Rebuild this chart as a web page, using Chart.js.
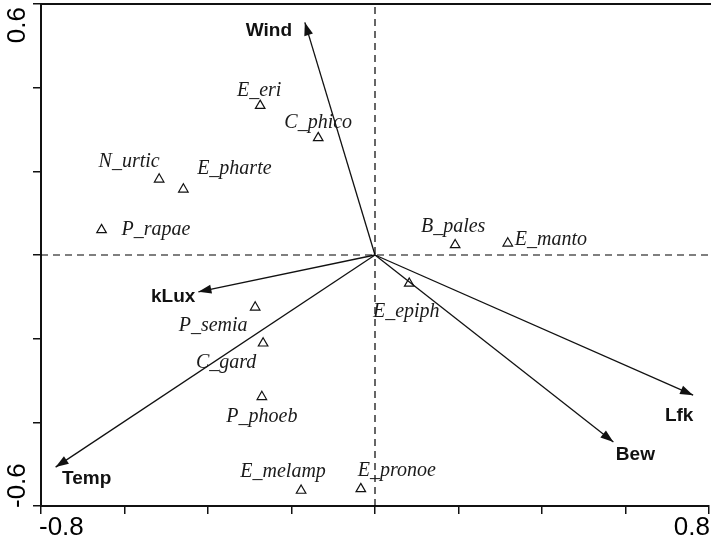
<!DOCTYPE html>
<html>
<head>
<meta charset="utf-8">
<script src="https://cdn.jsdelivr.net/npm/chart.js@4.4.1/dist/chart.umd.min.js"></script>
<style>
  html, body { margin: 0; padding: 0; background: #fff; }
  #wrap { width: 711px; height: 541px; }
</style>
</head>
<body>
<div id="wrap"><canvas id="cca"></canvas></div>
<script>
// species scores (axis 1, axis 2)
const species = ['E_eri', 'C_phico', 'N_urtic', 'E_pharte', 'P_rapae', 'B_pales', 'E_manto',
                 'E_epiph', 'P_semia', 'C_gard', 'P_phoeb', 'E_melamp', 'E_pronoe'];
const speciesX = [-0.275, -0.136, -0.517, -0.459, -0.655, 0.192, 0.318, 0.082, -0.287, -0.268, -0.271, -0.177, -0.034];
const speciesY = [0.357, 0.280, 0.181, 0.157, 0.060, 0.024, 0.028, -0.068, -0.125, -0.211, -0.339, -0.563, -0.559];

// environmental variables (arrow tips)
const envVars = ['Wind', 'kLux', 'Temp', 'Lfk', 'Bew'];
const envX = [-0.168, -0.423, -0.765, 0.762, 0.571];
const envY = [0.556, -0.088, -0.507, -0.335, -0.447];

// axis range + the only labelled ticks
const xTicks = [-0.8, 0.8];
const yTicks = [-0.6, 0.6];

// label placement relative to the marker (pixels)
const speciesLabelPos = {
    E_eri:    [-1, -15, 'center'],
    C_phico:  [0, -15, 'center'],
    N_urtic:  [-30, -18, 'center'],
    E_pharte: [51, -21, 'center'],
    P_rapae:  [20, 0, 'left'],
    B_pales:  [-2, -18, 'center'],
    E_manto:  [7, -4, 'left'],
    E_epiph:  [-3, 28, 'center'],
    P_semia:  [-42, 18, 'center'],
    C_gard:   [-37, 19, 'center'],
    P_phoeb:  [0, 20, 'center'],
    E_melamp: [-18, -19, 'center'],
    E_pronoe: [36, -18, 'center']
};
const envLabelPos = {
    Wind: [-36, 8, 'center'],
    kLux: [-3, 5, 'right'],
    Temp: [31, 12, 'center'],
    Lfk:  [-14, 21, 'center'],
    Bew:  [22, 13, 'center']
};

const ink = '#111';

const datasets = [];

// dashed zero lines
datasets.push({
    type: 'line', data: [{x: xTicks[0], y: 0}, {x: xTicks[1], y: 0}],
    borderColor: '#000', borderWidth: 1.2, borderDash: [7, 5], pointRadius: 0
});
datasets.push({
    type: 'line', data: [{x: 0, y: yTicks[0]}, {x: 0, y: yTicks[1]}],
    borderColor: '#000', borderWidth: 1.2, borderDash: [7, 5], pointRadius: 0
});

// one line per environmental arrow
envVars.forEach((name, i) => {
    datasets.push({
        type: 'line',
        label: name,
        isArrow: true,
        data: [{x: 0, y: 0}, {x: envX[i], y: envY[i]}],
        borderColor: ink,
        borderWidth: 1.3,
        pointRadius: 0
    });
});

// species markers
datasets.push({
    type: 'scatter',
    label: 'species',
    data: species.map((s, i) => ({x: speciesX[i], y: speciesY[i]})),
    pointStyle: 'triangle',
    pointRadius: 5.5,
    borderColor: ink,
    borderWidth: 1.2,
    backgroundColor: 'rgba(255,255,255,0)'
});

const biplotPlugin = {
    id: 'biplot',
    afterDatasetsDraw(chart) {
        const ctx = chart.ctx;
        ctx.save();
        // arrow heads + variable names
        chart.data.datasets.forEach((ds, di) => {
            if (!ds.isArrow) return;
            const pts = chart.getDatasetMeta(di).data;
            const o = pts[0], t = pts[1];
            const ang = Math.atan2(t.y - o.y, t.x - o.x);
            const len = 13, half = 4.5;
            ctx.fillStyle = ink;
            ctx.beginPath();
            ctx.moveTo(t.x, t.y);
            ctx.lineTo(t.x - len * Math.cos(ang) + half * Math.sin(ang), t.y - len * Math.sin(ang) - half * Math.cos(ang));
            ctx.lineTo(t.x - len * Math.cos(ang) - half * Math.sin(ang), t.y - len * Math.sin(ang) + half * Math.cos(ang));
            ctx.closePath();
            ctx.fill();

            const p = envLabelPos[ds.label];
            ctx.font = 'bold 19px "Liberation Sans", Arial, sans-serif';
            ctx.textAlign = p[2];
            ctx.textBaseline = 'middle';
            ctx.fillText(ds.label, t.x + p[0], t.y + p[1]);
        });

        // species names
        const sIdx = chart.data.datasets.findIndex(d => d.label === 'species');
        const sPts = chart.getDatasetMeta(sIdx).data;
        ctx.font = 'italic 20px "Liberation Serif", "Times New Roman", serif';
        ctx.fillStyle = '#1a1a1a';
        ctx.textBaseline = 'middle';
        species.forEach((name, i) => {
            const p = speciesLabelPos[name];
            ctx.textAlign = p[2];
            ctx.fillText(name, sPts[i].x + p[0], sPts[i].y + p[1]);
        });
        ctx.restore();
    },
    afterDraw(chart) {
        const ctx = chart.ctx;
        const {x, y} = chart.scales;
        const area = chart.chartArea;
        ctx.save();
        // top frame line
        ctx.strokeStyle = ink;
        ctx.lineWidth = 2;
        ctx.beginPath();
        ctx.moveTo(area.left, area.top);
        ctx.lineTo(chart.width, area.top);
        ctx.stroke();

        ctx.fillStyle = '#000';
        ctx.font = '26px "Liberation Sans", Arial, sans-serif';
        ctx.textBaseline = 'middle';
        // x tick labels, aligned inward
        ctx.textAlign = 'left';
        ctx.fillText(String(xTicks[0]), x.getPixelForValue(xTicks[0]) - 2, area.bottom + 22);
        ctx.textAlign = 'right';
        ctx.fillText(String(xTicks[1]), x.getPixelForValue(xTicks[1]) + 1, area.bottom + 22);
        // y tick labels, rotated, aligned inward
        const lx = 18;
        ctx.save();
        ctx.translate(lx, y.getPixelForValue(yTicks[1]) + 3);
        ctx.rotate(-Math.PI / 2);
        ctx.textAlign = 'right';
        ctx.fillText(String(yTicks[1]), 0, 0);
        ctx.restore();
        ctx.save();
        ctx.translate(lx, y.getPixelForValue(yTicks[0]) + 2);
        ctx.rotate(-Math.PI / 2);
        ctx.textAlign = 'left';
        ctx.fillText(String(yTicks[0]), 0, 0);
        ctx.restore();
        ctx.restore();
    }
};

const axisGrid = {
    display: true,
    drawOnChartArea: false,
    drawTicks: true,
    tickLength: 8,
    color: ink,
    lineWidth: 1.5
};

new Chart(document.getElementById('cca'), {
    type: 'scatter',
    data: { datasets: datasets },
    options: {
        responsive: true,
        maintainAspectRatio: false,
        animation: false,
        layout: { autoPadding: false, padding: { left: 33, top: 4, right: 2, bottom: 27 } },
        plugins: {
            legend: { display: false },
            tooltip: { enabled: false }
        },
        scales: {
            x: {
                type: 'linear',
                min: xTicks[0],
                max: xTicks[1],
                ticks: { display: false, stepSize: 0.2 },
                grid: axisGrid,
                border: { display: true, color: ink, width: 2 }
            },
            y: {
                type: 'linear',
                min: yTicks[0],
                max: yTicks[1],
                ticks: { display: false, stepSize: 0.2 },
                grid: axisGrid,
                border: { display: true, color: ink, width: 2 }
            }
        }
    },
    plugins: [biplotPlugin]
});
</script>
</body>
</html>
